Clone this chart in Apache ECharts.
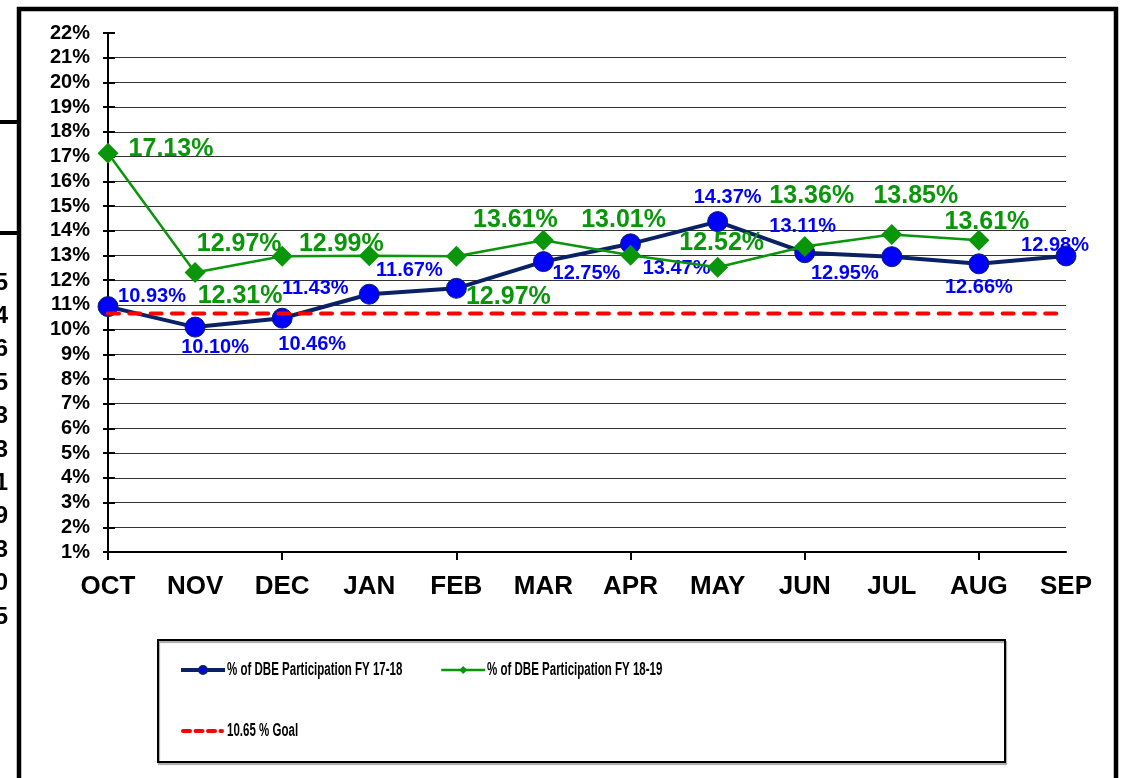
<!DOCTYPE html>
<html>
<head>
<meta charset="utf-8">
<script src="https://cdn.jsdelivr.net/npm/echarts@6/dist/echarts.min.js"></script>
<style>
html,body{margin:0;padding:0;background:#fff;}
#chart{width:1127px;height:778px;}
</style>
</head>
<body>
<div id="chart"></div>
<script>
// ---- data ----
const months = ['OCT','NOV','DEC','JAN','FEB','MAR','APR','MAY','JUN','JUL','AUG','SEP'];
const fy1718 = [10.93, 10.10, 10.46, 11.43, 11.67, 12.75, 13.47, 14.37, 13.11, 12.95, 12.66, 12.98];
const fy1819 = [17.13, 12.31, 12.97, 12.99, 12.97, 13.61, 13.01, 12.52, 13.36, 13.85, 13.61, null];
const goalValue = 10.65;
const seriesNames = ['% of DBE Participation FY 17-18', '% of DBE Participation FY 18-19', '10.65 % Goal'];
const yMin = 1, yMax = 22, yStep = 1;
const clippedDigits = ['5','4','6','5','3','3','1','9','3','0','5'];

// ---- label placement (pixel offsets from each point) ----
const blueLabelOffsets = [[44,-10],[20,20],[30,26],[-54,-6],[-47,-18],[43,12],[46,25],[10,-24],[-2,-26],[-47,17],[0,24],[-11,-10]];
const greenLabelOffsets = [[63,-4],[45,24],[-43,-12],[-28,-12],[52,41],[-28,-20],[-7,-35],[4,-24],[7,-50],[24,-38],[8,-18],[0,0]];

const FONT = "'Liberation Sans', Arial, sans-serif";
const chart = echarts.init(document.getElementById('chart'), null, {renderer:'canvas'});

const goalData = months.map(() => goalValue);
const fmt = p => (p.value == null ? '' : Number(p.value).toFixed(2) + '%');

const graphics = [
  {type:'rect', shape:{x:19, y:9, width:1097, height:820}, style:{fill:'none', stroke:'#000', lineWidth:4.5}, z:100},
  {type:'rect', shape:{x:0, y:120, width:18, height:4}, style:{fill:'#000'}},
  {type:'rect', shape:{x:0, y:231, width:18, height:4}, style:{fill:'#000'}},
  {type:'rect', shape:{x:158, y:640, width:847, height:122}, style:{fill:'none', stroke:'#000', lineWidth:2, shadowColor:'rgba(0,0,0,0.35)', shadowOffsetX:1, shadowOffsetY:2, shadowBlur:1}}
];
clippedDigits.forEach((d, i) => {
  graphics.push({type:'text', x:8, y:283 + i*33.4, style:{text:d, font:"bold 24px " + FONT, fill:'#000', align:'right', verticalAlign:'middle'}});
});
// legend labels (condensed text like the original's narrow font)
const legendTextPos = [[227,670],[487,670],[227,731]];
seriesNames.forEach((n, i) => {
  graphics.push({type:'text', x:legendTextPos[i][0], y:legendTextPos[i][1], scaleX:0.64,
    style:{text:n, font:"bold 18px " + FONT, fill:'#000', align:'left', verticalAlign:'middle'}});
});

const legendCommon = {
  orient:'horizontal', itemWidth:44, itemHeight:10, itemGap:0, padding:0,
  formatter: function(){ return ''; },
  textStyle:{fontSize:1}
};

chart.setOption({
  animation:false,
  backgroundColor:'#fff',
  grid:{left:108, right:61, top:33, bottom:226, containLabel:false},
  legend:[
    Object.assign({}, legendCommon, {data:[seriesNames[0]], left:179, top:665, lineStyle:{width:4}}),
    Object.assign({}, legendCommon, {data:[seriesNames[1]], left:440, top:665, lineStyle:{width:2.5}}),
    Object.assign({}, legendCommon, {data:[seriesNames[2]], left:181, top:726, itemWidth:39, lineStyle:{width:4, type:[7,5.5], cap:'round'}, itemStyle:{opacity:0}})
  ],
  xAxis:{
    type:'category', data:months, boundaryGap:false,
    axisLine:{lineStyle:{color:'#000', width:2}},
    axisTick:{show:true, interval:function(i){ return i % 2 === 0; }, length:8, lineStyle:{color:'#000', width:2}},
    axisLabel:{interval:0, margin:22, color:'#000', fontFamily:FONT, fontWeight:'bold', fontSize:26},
    splitLine:{show:false}
  },
  yAxis:[
    {
      type:'value', min:yMin, max:yMax, interval:yStep, position:'left',
      axisLine:{show:true, lineStyle:{color:'#000', width:2}},
      axisTick:{show:true, length:5, lineStyle:{color:'#000', width:2}},
      axisLabel:{margin:18, color:'#000', fontFamily:FONT, fontWeight:'bold', fontSize:20, formatter:'{value}%'},
      splitLine:{show:true, showMinLine:false, showMaxLine:false, lineStyle:{color:'#333', width:1}}
    },
    {
      type:'value', min:yMin, max:yMax, interval:yStep, position:'left', offset:0,
      axisLine:{show:false},
      axisTick:{show:true, inside:true, length:7, lineStyle:{color:'#000', width:2}},
      axisLabel:{show:false},
      splitLine:{show:false}
    }
  ],
  graphic:graphics,
  series:[
    {
      name:seriesNames[0], type:'line', yAxisIndex:0, z:3,
      data:fy1718.map((v,i) => ({value:v, label:{offset:blueLabelOffsets[i]}})),
      symbol:'circle', symbolSize:20,
      lineStyle:{color:'#0B2166', width:4},
      itemStyle:{color:'#0000FF', borderColor:'#0B2166', borderWidth:1},
      label:{show:true, position:'inside', formatter:fmt, color:'#0000FF', fontFamily:FONT, fontWeight:'bold', fontSize:20},
      emphasis:{disabled:true}
    },
    {
      name:seriesNames[1], type:'line', yAxisIndex:0, z:4,
      data:fy1819.map((v,i) => ({value:v, label:{offset:greenLabelOffsets[i]}})),
      symbol:'diamond', symbolSize:21,
      lineStyle:{color:'#0A960A', width:2.5},
      itemStyle:{color:'#0A960A', borderColor:'#0A960A', borderWidth:0},
      label:{show:true, position:'inside', formatter:fmt, color:'#0A960A', fontFamily:FONT, fontWeight:'bold', fontSize:25},
      emphasis:{disabled:true}
    },
    {
      name:seriesNames[2], type:'line', yAxisIndex:0, z:5,
      data:goalData, symbol:'none',
      lineStyle:{color:'#FF0000', width:4, type:[11,10.3], cap:'round'},
      itemStyle:{color:'#FF0000'},
      emphasis:{disabled:true}
    }
  ]
});
</script>
</body>
</html>
